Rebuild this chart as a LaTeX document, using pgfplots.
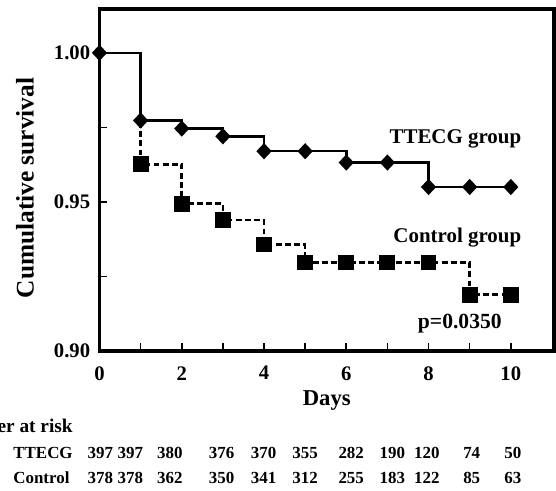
\documentclass[border=0pt]{standalone}
\usepackage{fontspec}
\setmainfont{Liberation Serif}
\usepackage{pgfplots}
\pgfplotsset{compat=1.18}
\usepackage{pgfplotstable}

% survival
\pgfplotstableread{
day surv
0  1.0000
1  0.9773
2  0.9746
3  0.9720
4  0.9670
5  0.9670
6  0.9632
7  0.9632
8  0.9550
9  0.9550
10 0.9550
}\ttecg

\pgfplotstableread{
day surv
0  1.0000
1  0.9626
2  0.9494
3  0.9439
4  0.9357
5  0.9297
6  0.9297
7  0.9297
8  0.9297
9  0.9189
10 0.9189
}\control

% number at risk, column positions in days
\pgfplotstableread{
pos   ttecg control
0.02  397 378
0.75  397 378
1.71  380 362
2.97  376 350
3.99  370 341
5.00  355 312
6.12  282 255
7.12  190 183
7.96  120 122
9.05  74  85
10.05 50  63
}\risk

\begin{document}
\begin{tikzpicture}
\begin{axis}[
  scale only axis,
  width=340.875pt, height=256.5pt,
  xmin=0, xmax=11.05,
  ymin=0.90, ymax=1.0147,
  clip=false,
  axis line style={line width=2.4pt},
  xtick={0,2,...,10},
  minor xtick={1,3,...,9},
  ytick={0.90,0.95,1.00},
  minor ytick={0.925,0.975},
  tick align=inside,
  tick pos=left,
  major tick length=6pt, minor tick length=6pt,
  every tick/.style={black, line width=1.2pt},
  /pgf/number format/assume math mode=true,
  yticklabel style={/pgf/number format/fixed, /pgf/number format/precision=2,
    /pgf/number format/fixed zerofill, xshift=-3.5pt},
  xticklabel style={yshift=-8pt},
  ticklabel style={font=\fontsize{15.5}{18}\selectfont\bfseries},
  xlabel={Days},
  xlabel style={at={(0.5,0)}, anchor=center, yshift=-37pt,
    font=\fontsize{17}{20}\selectfont\bfseries},
  ylabel={Cumulative survival},
  ylabel style={at={(-0.1639,0.4766)}, anchor=center,
    font=\fontsize{19}{22}\selectfont\bfseries},
]
\addplot[const plot, line width=1.9pt, black,
  mark=diamond*, mark size=4.7pt, mark options={solid, xscale=1.25}]
  table[x=day, y=surv] {\ttecg};
\addplot[const plot, line width=1.9pt, black, dash pattern=on 4.3pt off 2.6pt,
  mark=square*, mark size=5pt, mark indices={2,...,11}, mark options={solid}]
  table[x=day, y=surv] {\control};

\node[anchor=east, inner sep=0pt, font=\fontsize{15.7}{18}\selectfont\bfseries]
  at (axis cs:10.26,0.9712) {TTECG group};
\node[anchor=east, inner sep=0pt, font=\fontsize{15.7}{18}\selectfont\bfseries]
  at (axis cs:10.26,0.9381) {Control group};
\node[anchor=center, font=\fontsize{16.2}{19}\selectfont\bfseries]
  at (axis cs:8.76,0.9092) {p=0.0350};

% number at risk table
\node[anchor=east, inner sep=0pt, font=\fontsize{14.5}{16}\selectfont\bfseries]
  at (axis cs:-0.644,0.8748) {Number at risk};
\node[anchor=west, inner sep=0pt, font=\fontsize{12.7}{15}\selectfont\bfseries]
  at (axis cs:-2.10,0.8657) {TTECG};
\node[anchor=west, inner sep=0pt, font=\fontsize{12.7}{15}\selectfont\bfseries]
  at (axis cs:-2.10,0.8574) {Control};
\addplot[draw=none, mark=none, nodes near coords, point meta=explicit symbolic,
  nodes near coords style={anchor=center, font=\fontsize{12.7}{15}\selectfont\bfseries}]
  table[x=pos, y expr=0.8657, meta=ttecg] {\risk};
\addplot[draw=none, mark=none, nodes near coords, point meta=explicit symbolic,
  nodes near coords style={anchor=center, font=\fontsize{12.7}{15}\selectfont\bfseries}]
  table[x=pos, y expr=0.8574, meta=control] {\risk};
\end{axis}
\pgfresetboundingbox
\useasboundingbox (-74.625pt,-105pt) rectangle (342.375pt,263.25pt);
\end{tikzpicture}
\end{document}
